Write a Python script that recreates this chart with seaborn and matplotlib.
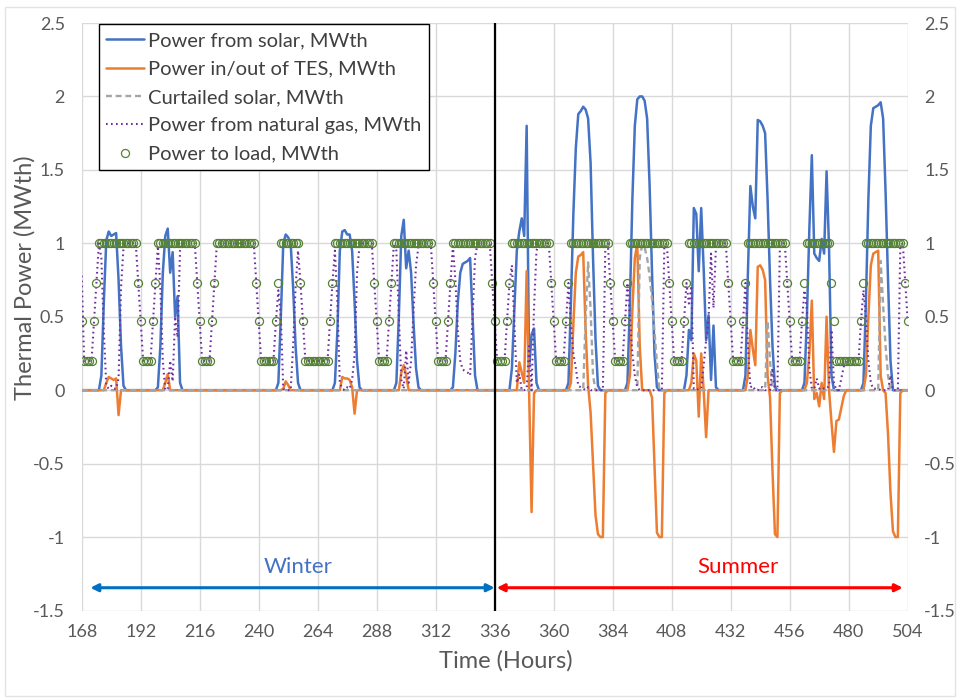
import matplotlib
matplotlib.use("Agg")
import matplotlib.pyplot as plt
import seaborn as sns
import pandas as pd
from matplotlib.patches import Rectangle

# ---------------- data (hourly, hours 168..504) ----------------
hours = list(range(168, 505))

load = [
    0.47, 0.2, 0.2, 0.2, 0.2, 0.47, 0.73, 1, 1, 1, 1, 1, 1, 1, 1, 1, 1, 1, 1, 1, 1, 1, 1, 0.73,
    0.47, 0.2, 0.2, 0.2, 0.2, 0.47, 0.73, 1, 1, 1, 1, 1, 1, 1, 1, 1, 1, 1, 1, 1, 1, 1, 1, 0.73,
    0.47, 0.2, 0.2, 0.2, 0.2, 0.47, 0.73, 1, 1, 1, 1, 1, 1, 1, 1, 1, 1, 1, 1, 1, 1, 1, 1, 0.73,
    0.47, 0.2, 0.2, 0.2, 0.2, 0.2, 0.2, 0.47, 0.73, 1, 1, 1, 1, 1, 1, 1, 1, 0.73, 0.47, 0.2, 0.2, 0.2, 0.2, 0.2,
    0.2, 0.2, 0.2, 0.2, 0.2, 0.47, 0.73, 1, 1, 1, 1, 1, 1, 1, 1, 1, 1, 1, 1, 1, 1, 1, 1, 0.73,
    0.47, 0.2, 0.2, 0.2, 0.2, 0.47, 0.73, 1, 1, 1, 1, 1, 1, 1, 1, 1, 1, 1, 1, 1, 1, 1, 1, 0.73,
    0.47, 0.2, 0.2, 0.2, 0.2, 0.47, 0.73, 1, 1, 1, 1, 1, 1, 1, 1, 1, 1, 1, 1, 1, 1, 1, 1, 0.73,
    0.47, 0.2, 0.2, 0.2, 0.2, 0.47, 0.73, 1, 1, 1, 1, 1, 1, 1, 1, 1, 1, 1, 1, 1, 1, 1, 1, 0.73,
    0.47, 0.2, 0.2, 0.2, 0.2, 0.47, 0.73, 1, 1, 1, 1, 1, 1, 1, 1, 1, 1, 1, 1, 1, 1, 1, 1, 0.73,
    0.47, 0.2, 0.2, 0.2, 0.2, 0.47, 0.73, 1, 1, 1, 1, 1, 1, 1, 1, 1, 1, 1, 1, 1, 1, 1, 1, 0.73,
    0.47, 0.2, 0.2, 0.2, 0.2, 0.47, 0.73, 1, 1, 1, 1, 1, 1, 1, 1, 1, 1, 1, 1, 1, 1, 1, 1, 0.73,
    0.47, 0.2, 0.2, 0.2, 0.2, 0.47, 0.73, 1, 1, 1, 1, 1, 1, 1, 1, 1, 1, 1, 1, 1, 1, 1, 1, 0.73,
    0.47, 0.2, 0.2, 0.2, 0.2, 0.47, 0.73, 1, 1, 1, 1, 1, 1, 1, 1, 1, 1, 0.73, 0.47, 0.2, 0.2, 0.2, 0.2, 0.2,
    0.2, 0.2, 0.2, 0.2, 0.2, 0.47, 0.73, 1, 1, 1, 1, 1, 1, 1, 1, 1, 1, 1, 1, 1, 1, 1, 1, 0.73,
    0.47,
]

solar = [
    0, 0, 0, 0, 0, 0, 0, 0, 0.1, 0.6, 1.02, 1.08, 1.05, 1.06, 1.07, 0.75, 0.3, 0.03, 0, 0, 0, 0, 0, 0,
    0, 0, 0, 0, 0, 0, 0, 0.02, 0.3, 0.8, 1.05, 1.1, 0.8, 0.94, 0.5, 0.64, 0.05, 0, 0, 0, 0, 0, 0, 0,
    0, 0, 0, 0, 0, 0, 0, 0, 0, 0, 0, 0, 0, 0, 0, 0, 0, 0, 0, 0, 0, 0, 0, 0,
    0, 0, 0, 0, 0, 0, 0, 0, 0.05, 0.5, 1.0, 1.06, 1.04, 1.0, 0.7, 0.3, 0.05, 0, 0, 0, 0, 0, 0, 0,
    0, 0, 0, 0, 0, 0, 0, 0.05, 0.4, 0.95, 1.08, 1.09, 1.06, 1.06, 0.95, 0.6, 0.2, 0.02, 0, 0, 0, 0, 0, 0,
    0, 0, 0, 0, 0, 0, 0, 0, 0.05, 0.5, 1.05, 1.16, 0.83, 0.95, 0.8, 0.45, 0.15, 0.02, 0, 0, 0, 0, 0, 0,
    0, 0, 0, 0, 0, 0, 0, 0.02, 0.25, 0.6, 0.8, 0.86, 0.87, 0.88, 0.9, 0.5, 0.1, 0, 0, 0, 0, 0, 0, 0,
    0, 0, 0, 0, 0, 0, 0, 0.15, 0.55, 0.95, 1.08, 1.17, 1.05, 1.8, 0.15, 0.38, 0.42, 0.05, 0, 0, 0, 0, 0, 0,
    0, 0, 0, 0, 0, 0, 0.05, 0.6, 1.2, 1.65, 1.88, 1.9, 1.93, 1.91, 1.85, 1.55, 0.9, 0.35, 0.03, 0, 0, 0, 0, 0,
    0, 0, 0, 0, 0, 0, 0.05, 0.6, 1.3, 1.8, 1.98, 2.0, 2.0, 1.97, 1.85, 1.4, 0.8, 0.25, 0.02, 0, 0, 0, 0, 0,
    0, 0, 0, 0, 0, 0, 0.1, 0.41, 0.34, 1.24, 1.2, 0.81, 1.24, 0.83, 0.34, 0.51, 0.07, 0.44, 0.02, 0, 0, 0, 0, 0,
    0, 0, 0, 0, 0, 0, 0.1, 0.8, 1.39, 1.25, 1.17, 1.84, 1.83, 1.8, 1.75, 1.3, 0.75, 0.3, 0.02, 0, 0, 0, 0, 0,
    0, 0, 0, 0, 0, 0, 0.05, 0.5, 1.1, 1.6, 0.93, 0.9, 0.88, 1.03, 0.93, 1.49, 0.97, 0.1, 0, 0, 0, 0, 0, 0,
    0, 0, 0, 0, 0, 0, 0.05, 0.6, 1.3, 1.8, 1.92, 1.93, 1.94, 1.96, 1.85, 1.35, 0.75, 0.2, 0, 0, 0, 0, 0, 0,
    0,
]

tes = [
    0, 0, 0, 0, 0, 0, 0, 0, 0, 0, 0.05, 0.09, 0.08, 0.07, 0.08, -0.17, 0, 0, 0, 0, 0, 0, 0, 0,
    0, 0, 0, 0, 0, 0, 0, 0, 0, 0, 0.05, 0.11, 0, 0, 0, 0, 0, 0, 0, 0, 0, 0, 0, 0,
    0, 0, 0, 0, 0, 0, 0, 0, 0, 0, 0, 0, 0, 0, 0, 0, 0, 0, 0, 0, 0, 0, 0, 0,
    0, 0, 0, 0, 0, 0, 0, 0, 0, 0, 0.01, 0.06, 0.035, 0, 0, 0, 0, 0, 0, 0, 0, 0, 0, 0,
    0, 0, 0, 0, 0, 0, 0, 0, 0, 0, 0.09, 0.08, 0.08, 0.07, 0.02, -0.16, 0, 0, 0, 0, 0, 0, 0, 0,
    0, 0, 0, 0, 0, 0, 0, 0, 0, 0, 0.12, 0.17, 0.1, 0, 0, 0, 0, 0, 0, 0, 0, 0, 0, 0,
    0, 0, 0, 0, 0, 0, 0, 0, 0, 0, 0, 0, 0, 0, 0, 0, 0, 0, 0, 0, 0, 0, 0, 0,
    0, 0, 0, 0, 0, 0, 0, 0, 0, 0, 0.19, 0.12, 0.05, 0.81, 0, -0.83, -0.02, 0, 0, 0, 0, 0, 0, 0,
    0, 0, 0, 0, 0, 0, 0, 0.05, 0.45, 0.8, 0.91, 0.92, 0.94, 0.4, 0.03, -0.15, -0.5, -0.85, -0.98, -1.0, -1.0, -0.02, 0, 0,
    0, 0, 0, 0, 0, 0, 0, 0.1, 0.55, 0.9, 1.0, 0.3, 0, 0, 0, 0, -0.05, -0.5, -0.97, -1.0, -1.0, -0.02, 0, 0,
    0, 0, 0, 0, 0, 0, 0, 0, 0.05, 0.25, 0.2, -0.18, 0.25, 0, -0.32, 0, 0, 0, 0, 0, 0, 0, 0, 0,
    0, 0, 0, 0, 0, 0, 0, 0.1, 0.41, 0.28, 0.17, 0.84, 0.85, 0.82, 0.75, 0.1, -0.05, -0.55, -0.98, -1.0, -0.02, 0, 0, 0,
    0, 0, 0, 0, 0, 0, 0, 0.05, 0.25, 0.61, -0.06, -0.02, -0.11, 0.05, -0.06, 0.5, 0, -0.22, -0.42, -0.21, -0.2, -0.12, -0.04, 0,
    0, 0, 0, 0, 0, 0, 0, 0.1, 0.5, 0.85, 0.93, 0.94, 0.95, 0.1, 0, -0.02, -0.3, -0.7, -0.96, -1.0, -1.0, -0.02, 0, 0,
    0,
]

curtailed = [
    0, 0, 0, 0, 0, 0, 0, 0, 0, 0, 0, 0, 0, 0, 0, 0, 0, 0, 0, 0, 0, 0, 0, 0,
    0, 0, 0, 0, 0, 0, 0, 0, 0, 0, 0, 0, 0, 0, 0, 0, 0, 0, 0, 0, 0, 0, 0, 0,
    0, 0, 0, 0, 0, 0, 0, 0, 0, 0, 0, 0, 0, 0, 0, 0, 0, 0, 0, 0, 0, 0, 0, 0,
    0, 0, 0, 0, 0, 0, 0, 0, 0, 0, 0, 0, 0, 0, 0, 0, 0, 0, 0, 0, 0, 0, 0, 0,
    0, 0, 0, 0, 0, 0, 0, 0, 0, 0, 0, 0, 0, 0, 0, 0, 0, 0, 0, 0, 0, 0, 0, 0,
    0, 0, 0, 0, 0, 0, 0, 0, 0, 0, 0, 0, 0, 0, 0, 0, 0, 0, 0, 0, 0, 0, 0, 0,
    0, 0, 0, 0, 0, 0, 0, 0, 0, 0, 0, 0, 0, 0, 0, 0, 0, 0, 0, 0, 0, 0, 0, 0,
    0, 0, 0, 0, 0, 0, 0, 0, 0, 0, 0, 0, 0, 0, 0, 0, 0, 0, 0, 0, 0, 0, 0, 0,
    0, 0, 0, 0, 0, 0, 0, 0, 0, 0, 0, 0, 0, 0.5, 0.87, 0.55, 0.1, 0, 0, 0, 0, 0, 0, 0,
    0, 0, 0, 0, 0, 0, 0, 0, 0, 0, 0, 0.9, 0.99, 0.97, 0.9, 0.78, 0.62, 0.4, 0.18, 0, 0, 0, 0, 0,
    0, 0, 0, 0, 0, 0, 0, 0, 0, 0, 0, 0, 0, 0, 0, 0, 0, 0, 0, 0, 0, 0, 0, 0,
    0, 0, 0, 0, 0, 0, 0, 0, 0, 0, 0, 0, 0, 0, 0, 0.47, 0.2, 0, 0, 0, 0, 0, 0, 0,
    0, 0, 0, 0, 0, 0, 0, 0, 0, 0, 0, 0, 0, 0, 0, 0, 0, 0, 0, 0, 0, 0, 0, 0,
    0, 0, 0, 0, 0, 0, 0, 0, 0, 0, 0, 0, 0, 0.88, 0.58, 0.3, 0.1, 0, 0, 0, 0, 0, 0, 0,
    0,
]

gas = [
    0.78, 0.2, 0.2, 0.2, 0.2, 0.47, 0.73, 1.0, 0.9, 0.4, 0.03, 0.01, 0.03, 0.01, 0.01, 0.08, 0.7, 0.97, 1, 1, 1, 1, 1, 0.73,
    0.47, 0.2, 0.2, 0.2, 0.2, 0.47, 0.73, 0.98, 0.7, 0.2, 0, 0.01, 0.2, 0.06, 0.5, 0.36, 0.95, 1, 1, 1, 1, 1, 1, 0.73,
    0.47, 0.2, 0.2, 0.2, 0.2, 0.47, 0.73, 1, 1, 1, 1, 1, 1, 1, 1, 1, 1, 1, 1, 1, 1, 1, 1, 0.73,
    0.47, 0.2, 0.2, 0.2, 0.2, 0.2, 0.2, 0.47, 0.68, 0.5, 0.01, 0, 0, 0, 0.3, 0.7, 0.95, 0.73, 0.47, 0.2, 0.2, 0.2, 0.2, 0.2,
    0.2, 0.2, 0.2, 0.2, 0.2, 0.47, 0.73, 0.95, 0.6, 0.05, 0.01, 0, 0.02, 0.01, 0.07, 0.24, 0.8, 0.98, 1, 1, 1, 1, 1, 0.73,
    0.47, 0.2, 0.2, 0.2, 0.2, 0.47, 0.73, 1.0, 0.95, 0.5, 0.07, 0.01, 0.27, 0.05, 0.2, 0.55, 0.85, 0.98, 1, 1, 1, 1, 1, 0.73,
    0.47, 0.2, 0.2, 0.2, 0.2, 0.47, 0.73, 0.98, 0.75, 0.4, 0.2, 0.14, 0.13, 0.12, 0.1, 0.5, 0.9, 1, 1, 1, 1, 1, 1, 0.73,
    0.47, 0.2, 0.2, 0.2, 0.2, 0.47, 0.73, 0.85, 0.45, 0.05, 0.11, 0, 0, 0.01, 0.3, 0, 0.56, 0.95, 1, 1, 1, 1, 1, 0.73,
    0.47, 0.2, 0.2, 0.2, 0.2, 0.47, 0.73, 0.45, 0.25, 0.15, 0.03, 0.02, 0.01, 0, 0.02, 0, 0, 0, 0, 0, 0, 0.98, 1, 0.73,
    0.47, 0.2, 0.2, 0.2, 0.2, 0.47, 0.73, 0.5, 0.25, 0.1, 0.02, 0, 0, 0, 0, 0, 0, 0, 0, 0, 0, 0.98, 1, 0.73,
    0.47, 0.2, 0.2, 0.2, 0.2, 0.47, 0.73, 0.59, 0.71, 0.01, 0, 0.01, 0.01, 0.17, 0.34, 0.49, 0.93, 0.56, 0.98, 1, 1, 1, 1, 0.73,
    0.47, 0.2, 0.2, 0.2, 0.2, 0.47, 0.73, 0.3, 0.02, 0.03, 0, 0, 0.02, 0.02, 0, 0, 0, 0.15, 0, 0, 0.98, 1, 1, 0.73,
    0.47, 0.2, 0.2, 0.2, 0.2, 0.47, 0.68, 0.55, 0.15, 0.01, 0.01, 0.08, 0.01, 0.02, 0.01, 0.01, 0.03, 0.41, 0.05, 0, 0, 0.08, 0.16, 0.2,
    0.2, 0.2, 0.2, 0.2, 0.2, 0.47, 0.68, 0.5, 0.2, 0.05, 0.01, 0.01, 0.01, 0, 0, 0, 0, 0.1, 0, 0, 0, 0.98, 1, 0.73,
    0.47,
]

series_labels = [
    "Power from solar, MWth",
    "Power in/out of TES, MWth",
    "Curtailed solar, MWth",
    "Power from natural gas, MWth",
    "Power to load, MWth",
]
x_ticks = list(range(168, 505, 24))
y_ticks = [-1.5, -1, -0.5, 0, 0.5, 1, 1.5, 2, 2.5]
y_tick_labels = ["-1.5", "-1", "-0.5", "0", "0.5", "1", "1.5", "2", "2.5"]
season_split = 336

df = pd.DataFrame({"hour": hours, "solar": solar, "tes": tes,
                   "curtailed": curtailed, "gas": gas, "load": load})

# ---------------- style ----------------
sns.set_theme(style="white")
plt.rcParams["font.family"] = ["Lato", "DejaVu Sans"]

fig = plt.figure(figsize=(9.58, 6.98), dpi=100)
ax = fig.add_axes([81.7 / 958, 1 - 610.5 / 698, 826 / 958, 587.5 / 698])

# outer chart border
fig.patches.append(Rectangle((5 / 958, 2 / 698), 950 / 958, 689 / 698,
                             transform=fig.transFigure, fill=False,
                             edgecolor="#E3E3E3", lw=1))

TXT = "#595959"

sns.lineplot(data=df, x="hour", y="solar", ax=ax, color="#4472C4", lw=1.8,
             label=series_labels[0], zorder=3)
sns.lineplot(data=df, x="hour", y="tes", ax=ax, color="#ED7D31", lw=1.8,
             label=series_labels[1], zorder=3)
sns.lineplot(data=df, x="hour", y="curtailed", ax=ax, color="#A5A5A5", lw=1.7,
             linestyle=(0, (2.5, 1.6)), label=series_labels[2], zorder=3)
sns.lineplot(data=df, x="hour", y="gas", ax=ax, color="#7030A0", lw=1.5,
             linestyle=(0, (0.8, 1.6)), label=series_labels[3], zorder=4)
sns.lineplot(data=df, x="hour", y="load", ax=ax, color="#548235",
             marker="o", linestyle="none", markersize=5.8,
             markerfacecolor="none", markeredgecolor="#548235",
             markeredgewidth=0.9, label=series_labels[4], zorder=5)

ax.axvline(season_split, color="black", lw=1.6, zorder=6)

# season arrows
ax.annotate("", xy=(171.5, -1.345), xytext=(season_split, -1.345),
            arrowprops=dict(arrowstyle="<|-|>", color="#0070C0", lw=2.2,
                            mutation_scale=11, shrinkA=0, shrinkB=0), zorder=6)
ax.annotate("", xy=(season_split + 0.8, -1.345), xytext=(502, -1.345),
            arrowprops=dict(arrowstyle="<|-|>", color="#FF0000", lw=2.2,
                            mutation_scale=11, shrinkA=0, shrinkB=0), zorder=6)
ax.text(256, -1.205, "Winter", color="#4472C4", fontsize=16,
        ha="center", va="center")
ax.text(435, -1.205, "Summer", color="#FF0000", fontsize=16,
        ha="center", va="center")

ax.set_xlim(168, 504)
ax.set_ylim(-1.5, 2.5)
ax.set_xticks(x_ticks)
ax.set_xticklabels([str(t) for t in x_ticks])
ax.set_yticks(y_ticks)
ax.set_yticklabels(y_tick_labels)
ax.grid(True, color="#D9D9D9", lw=1)
ax.set_axisbelow(True)
for s in ax.spines.values():
    s.set_visible(False)
ax.tick_params(axis="both", length=0, labelsize=13, colors=TXT)
ax.tick_params(axis="y", labelright=True, pad=12)
ax.tick_params(axis="x", pad=10)
ax.set_xlabel("")
ax.set_ylabel("")

fig.text(25 / 958, 1 - 278 / 698, "Thermal Power (MWth)", rotation=90,
         ha="center", va="center", fontsize=17, color=TXT)
fig.text(506 / 958, 1 - 661 / 698, "Time (Hours)", ha="center",
         va="center", fontsize=17, color=TXT)

leg = ax.legend(loc="upper left", bbox_to_anchor=(0.0205, 0.9975),
                fontsize=14.5, frameon=True, fancybox=False, framealpha=1,
                edgecolor="black", borderpad=0.38, labelspacing=0.56,
                handlelength=1.85, handletextpad=0.22, borderaxespad=0)
leg.get_frame().set_linewidth(1.0)
for t in leg.get_texts():
    t.set_color("#404040")
leg.set_zorder(10)

fig.savefig("out.png", dpi=100)
